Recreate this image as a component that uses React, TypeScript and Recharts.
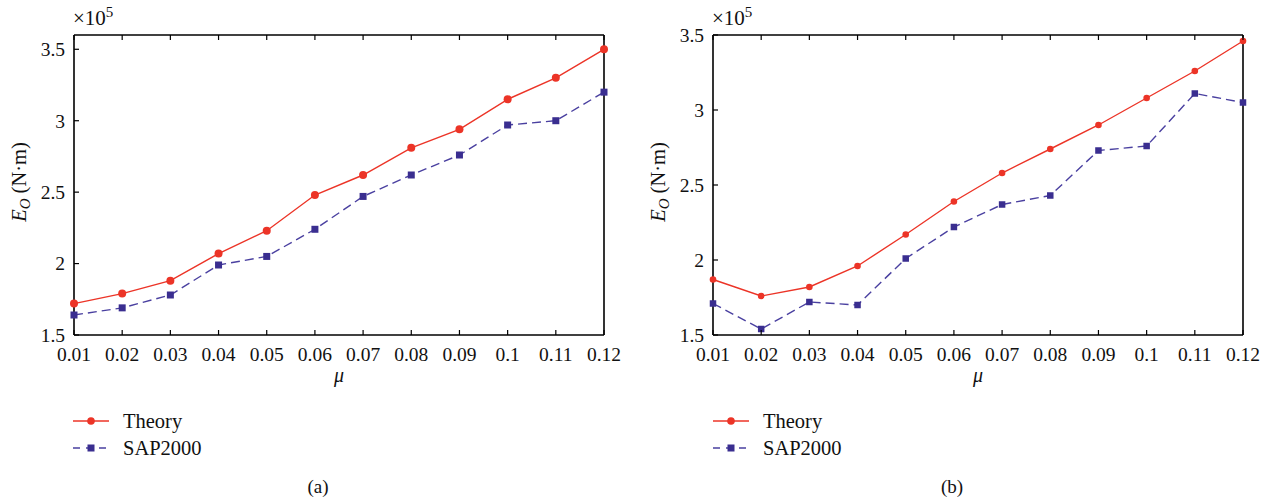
import React from 'react';
import { LineChart, Line, XAxis, YAxis, Legend } from 'recharts';

const muValues = [0.01, 0.02, 0.03, 0.04, 0.05, 0.06, 0.07, 0.08, 0.09, 0.1, 0.11, 0.12];
const xTickLabels = ['0.01', '0.02', '0.03', '0.04', '0.05', '0.06', '0.07', '0.08', '0.09', '0.1', '0.11', '0.12'];
const yTicks = [1.5, 2, 2.5, 3, 3.5];
const yTickLabels = ['1.5', '2', '2.5', '3', '3.5'];

const theoryA = [1.72, 1.79, 1.88, 2.07, 2.23, 2.48, 2.62, 2.81, 2.94, 3.15, 3.3, 3.5];
const sapA = [1.64, 1.69, 1.78, 1.99, 2.05, 2.24, 2.47, 2.62, 2.76, 2.97, 3.0, 3.2];
const theoryB = [1.87, 1.76, 1.82, 1.96, 2.17, 2.39, 2.58, 2.74, 2.9, 3.08, 3.26, 3.46];
const sapB = [1.71, 1.54, 1.72, 1.7, 2.01, 2.22, 2.37, 2.43, 2.73, 2.76, 3.11, 3.05];

const seriesNames = ['Theory', 'SAP2000'];

const FONT = '"Liberation Serif", "DejaVu Serif", serif';
const TXT = '#111';
const RED = '#ec3427';
const BLUE_LINE = '#4a40a0';
const BLUE_MARK = '#3a2e90';

const dataA = muValues.map((mu, i) => ({ mu, theory: theoryA[i], sap: sapA[i] }));
const dataB = muValues.map((mu, i) => ({ mu, theory: theoryB[i], sap: sapB[i] }));

const xLabelOf = (v: number) => {
  const i = muValues.findIndex((m) => Math.abs(m - v) < 1e-9);
  return i >= 0 ? xTickLabels[i] : String(v);
};
const yLabelOf = (v: number) => {
  const i = yTicks.findIndex((m) => Math.abs(m - v) < 1e-9);
  return i >= 0 ? yTickLabels[i] : String(v);
};

const TICK = 5;

const BottomTick = (props: any) => {
  const { x, y, payload } = props;
  return (
    <g>
      <line x1={x} y1={y} x2={x} y2={y - TICK} stroke="#000" strokeWidth={1.2} />
      <text x={x} y={y + 26} textAnchor="middle" fontSize={19.5} fontFamily={FONT} fill={TXT}>
        {xLabelOf(payload.value)}
      </text>
    </g>
  );
};
const TopTick = (props: any) => {
  const { x, y } = props;
  return <line x1={x} y1={y} x2={x} y2={y + TICK} stroke="#000" strokeWidth={1.2} />;
};
const LeftTick = (props: any) => {
  const { x, y, payload } = props;
  return (
    <g>
      <line x1={x} y1={y} x2={x + TICK} y2={y} stroke="#000" strokeWidth={1.2} />
      <text x={x - 9} y={y} dy="0.35em" textAnchor="end" fontSize={19.5} fontFamily={FONT} fill={TXT}>
        {yLabelOf(payload.value)}
      </text>
    </g>
  );
};
const RightTick = (props: any) => {
  const { x, y } = props;
  return <line x1={x} y1={y} x2={x - TICK} y2={y} stroke="#000" strokeWidth={1.2} />;
};

const makeCircle = (r: number) => (props: any) => {
  const { cx, cy, index } = props;
  return <circle key={`c-${index}`} cx={cx} cy={cy} r={r} fill={RED} stroke="none" />;
};
const makeSquare = (s: number) => (props: any) => {
  const { cx, cy, index } = props;
  return <rect key={`s-${index}`} x={cx - s / 2} y={cy - s / 2} width={s} height={s} fill={BLUE_MARK} stroke="none" />;
};

const LegendBox = () => (
  <svg width={200} height={60} style={{ display: 'block' }}>
    <line x1={2} y1={16} x2={38} y2={16} stroke={RED} strokeWidth={1.5} />
    <circle cx={20} cy={16} r={3.8} fill={RED} />
    <text x={52} y={23} fontSize={20.5} fontFamily={FONT} fill={TXT}>{seriesNames[0]}</text>
    <line x1={2} y1={43} x2={38} y2={43} stroke={BLUE_LINE} strokeWidth={1.5} strokeDasharray="7 6" />
    <rect x={16.5} y={39.5} width={7} height={7} fill={BLUE_MARK} />
    <text x={52} y={50} fontSize={20.5} fontFamily={FONT} fill={TXT}>{seriesNames[1]}</text>
  </svg>
);

type PanelProps = {
  data: any[];
  yDomain: [number, number];
  width: number;
  marginLeft: number;
  marginRight: number;
  caption: string;
  captionX: number;
  legendLeft: number;
  dotR: number;
  sq: number;
};

const Panel = ({ data, yDomain, width, marginLeft, marginRight, caption, captionX, legendLeft, dotR, sq }: PanelProps) => {
  const xLabel = (p: any) => {
    const vb = p.viewBox;
    return (
      <g>
        <text x={vb.x + vb.width / 2} y={vb.y + 47} textAnchor="middle" fontSize={20} fontStyle="italic" fontFamily={FONT} fill={TXT}>
          μ
        </text>
        <text x={captionX} y={vb.y + 158} textAnchor="middle" fontSize={19} fontFamily={FONT} fill={TXT}>
          {caption}
        </text>
      </g>
    );
  };
  const yLabel = (p: any) => {
    const vb = p.viewBox;
    const px = vb.x + vb.width;
    const lx = px - 48;
    const ly = vb.y + vb.height / 2 - 3;
    return (
      <g>
        <text x={lx} y={ly} transform={`rotate(-90, ${lx}, ${ly})`} textAnchor="middle" fontSize={20.5} fontFamily={FONT} fill={TXT}>
          <tspan fontStyle="italic">E</tspan>
          <tspan fontStyle="italic" fontSize={15} dy={4}>O</tspan>
          <tspan dy={-4}> (N·m)</tspan>
        </text>
        <text x={px - 1} y={vb.y - 10} fontSize={21} fontFamily={FONT} fill={TXT}>
          <tspan>×10</tspan>
          <tspan fontSize={15} dy={-8}>5</tspan>
        </text>
      </g>
    );
  };
  return (
    <LineChart width={width} height={502} data={data} margin={{ top: 25, right: marginRight, bottom: 137, left: marginLeft }}>
      <XAxis
        dataKey="mu"
        type="number"
        domain={[muValues[0], muValues[muValues.length - 1]]}
        ticks={muValues}
        interval={0}
        height={30}
        tickSize={0}
        tickMargin={0}
        tickLine={false}
        tick={<BottomTick />}
        axisLine={{ stroke: '#000', strokeWidth: 1.6 }}
        label={xLabel}
      />
      <XAxis
        xAxisId="top"
        orientation="top"
        dataKey="mu"
        type="number"
        domain={[muValues[0], muValues[muValues.length - 1]]}
        ticks={muValues}
        interval={0}
        height={10}
        tickSize={0}
        tickMargin={0}
        tickLine={false}
        tick={<TopTick />}
        axisLine={{ stroke: '#000', strokeWidth: 1.6 }}
      />
      <YAxis
        type="number"
        domain={yDomain}
        ticks={yTicks}
        interval={0}
        width={60}
        tickSize={0}
        tickMargin={0}
        tickLine={false}
        tick={<LeftTick />}
        axisLine={{ stroke: '#000', strokeWidth: 1.6 }}
        label={yLabel}
      />
      <YAxis
        yAxisId="right"
        orientation="right"
        type="number"
        domain={yDomain}
        ticks={yTicks}
        interval={0}
        width={10}
        tickSize={0}
        tickMargin={0}
        tickLine={false}
        tick={<RightTick />}
        axisLine={{ stroke: '#000', strokeWidth: 1.6 }}
      />
      <Line
        dataKey="sap"
        name={seriesNames[1]}
        stroke={BLUE_LINE}
        strokeWidth={1.4}
        strokeDasharray="9 5"
        dot={makeSquare(sq)}
        activeDot={false}
        isAnimationActive={false}
      />
      <Line
        dataKey="theory"
        name={seriesNames[0]}
        stroke={RED}
        strokeWidth={1.4}
        dot={makeCircle(dotR)}
        activeDot={false}
        isAnimationActive={false}
      />
      <Legend
        layout="vertical"
        align="center"
        verticalAlign="middle"
        content={() => <LegendBox />}
        wrapperStyle={{ position: 'absolute', left: legendLeft, top: 405, width: 200, height: 60 }}
      />
    </LineChart>
  );
};

export default function App() {
  return (
    <div style={{ position: 'absolute', left: 0, top: 0, width: 1269, height: 502, background: '#fff' }}>
      <div style={{ position: 'absolute', left: 0, top: 0 }}>
        <Panel data={dataA} yDomain={[1.5, 3.6]} width={634} marginLeft={14} marginRight={20} caption="(a)" captionX={318} legendLeft={71} dotR={4} sq={7} />
      </div>
      <div style={{ position: 'absolute', left: 634, top: 0 }}>
        <Panel data={dataB} yDomain={[1.5, 3.5]} width={635} marginLeft={19} marginRight={16} caption="(b)" captionX={318} legendLeft={77} dotR={3.3} sq={6.5} />
      </div>
    </div>
  );
}
